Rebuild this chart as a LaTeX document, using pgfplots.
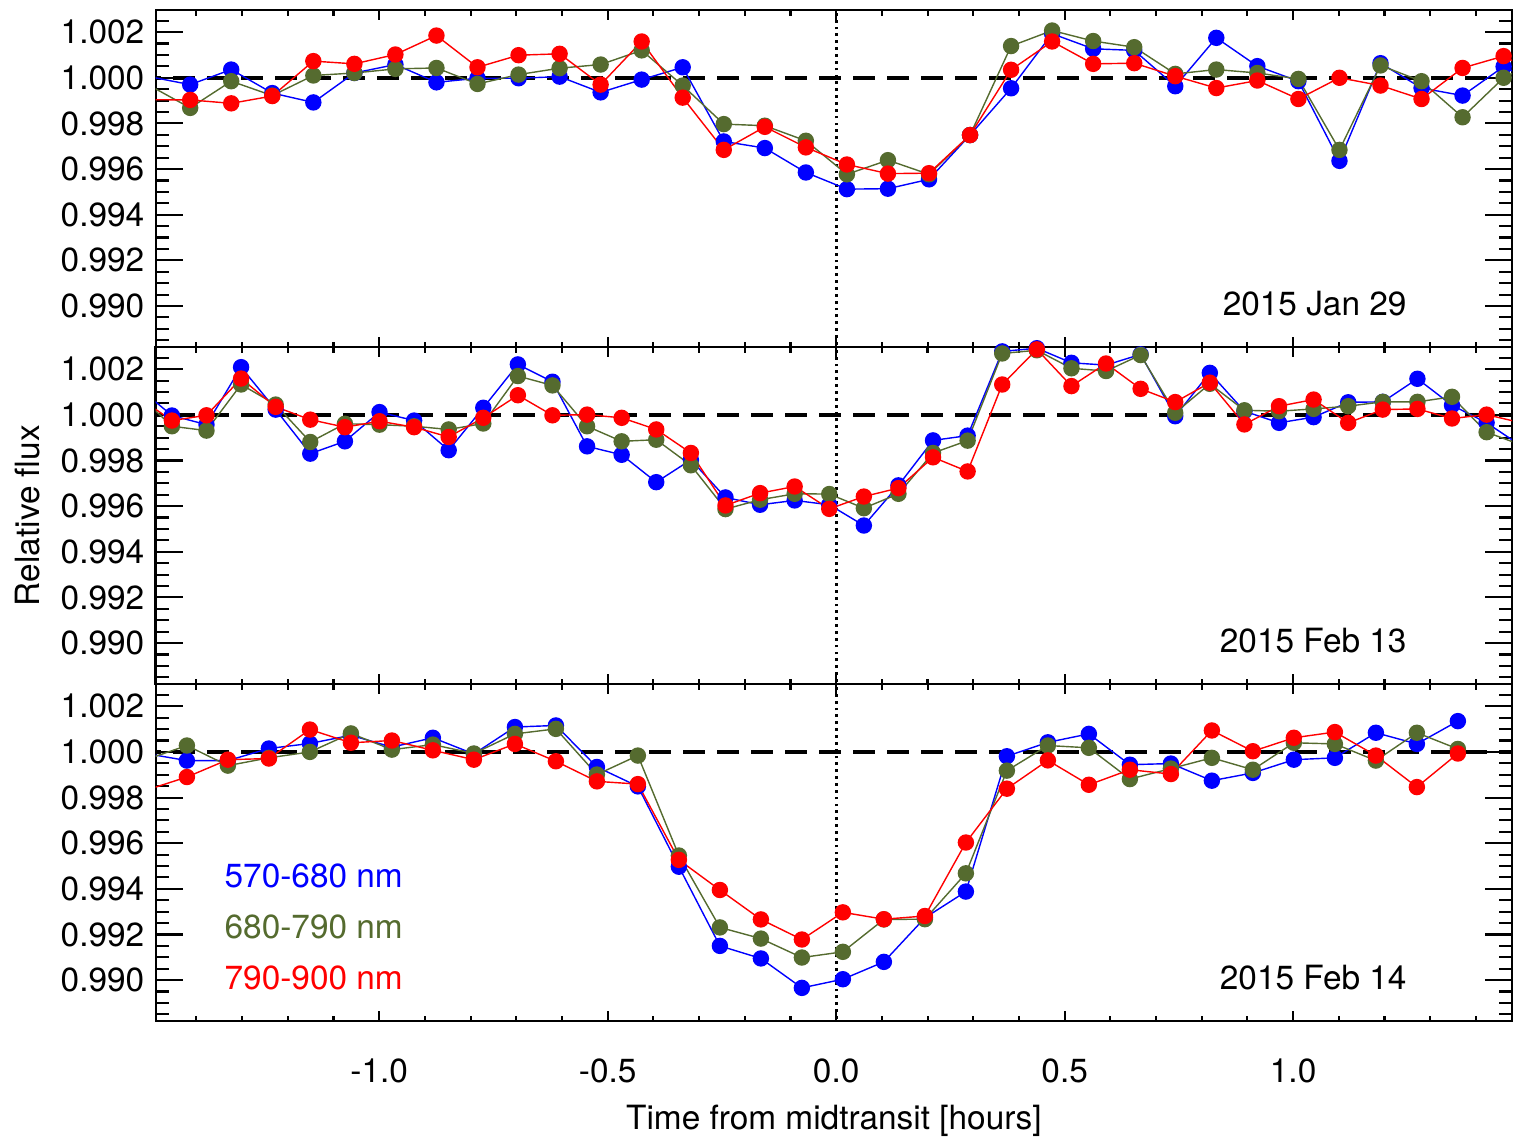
\documentclass[border=0pt]{standalone}
\usepackage{fontspec}
\setmainfont{TeX Gyre Heros}
\usepackage{pgfplots}
\usepackage{pgfplotstable}
\pgfplotsset{compat=1.18}

\definecolor{bandB}{RGB}{0,0,255}
\definecolor{bandG}{RGB}{85,107,47}
\definecolor{bandR}{RGB}{255,0,0}
\newcommand{\ff}{\fontsize{19pt}{22pt}\selectfont}

% time [h], 570-680, 680-790, 790-900 nm
\pgfplotstableread{
t b g r
-1.5034 1.00005 0.99967 0.99904
-1.4136 0.99970 0.99868 0.99903
-1.3238 1.00036 0.99985 0.99888
-1.2340 0.99933 0.99922 0.99920
-1.1441 0.99892 1.00010 1.00073
-1.0543 1.00021 1.00021 1.00061
-0.9645 1.00058 1.00039 1.00102
-0.8747 0.99980 1.00043 1.00185
-0.7849 0.99998 0.99973 1.00046
-0.6950 0.99998 1.00014 1.00099
-0.6052 1.00005 1.00042 1.00105
-0.5154 0.99936 1.00058 0.99970
-0.4256 0.99992 1.00120 1.00159
-0.3358 1.00046 0.99966 0.99913
-0.2459 0.99721 0.99797 0.99684
-0.1561 0.99692 0.99790 0.99785
-0.0663 0.99585 0.99724 0.99695
0.0235 0.99512 0.99577 0.99620
0.1133 0.99514 0.99639 0.99580
0.2032 0.99555 0.99577 0.99582
0.2930 0.99749 0.99749 0.99749
0.3828 0.99954 1.00139 1.00035
0.4726 1.00193 1.00207 1.00159
0.5624 1.00127 1.00161 1.00061
0.6523 1.00120 1.00134 1.00064
0.7421 0.99963 1.00017 1.00007
0.8319 1.00175 1.00036 0.99955
0.9217 1.00051 1.00021 0.99988
1.0115 0.99985 0.99995 0.99907
1.1014 0.99636 0.99684 1.00000
1.1912 1.00064 1.00054 0.99966
1.2810 0.99955 0.99985 0.99907
1.3708 0.99922 0.99827 1.00043
1.4606 1.00049 1.00000 1.00095
1.5505 0.99960 1.00090 1.00000
}\janA

\pgfplotstableread{
t b g r
-1.5293 1.00124 1.00094 1.00080
-1.4536 0.99997 0.99950 0.99975
-1.3779 0.99957 0.99931 0.99998
-1.3022 1.00209 1.00133 1.00159
-1.2265 1.00023 1.00045 1.00035
-1.1508 0.99830 0.99881 0.99979
-1.0750 0.99884 0.99961 0.99946
-0.9993 1.00012 0.99957 0.99972
-0.9236 0.99975 0.99950 0.99946
-0.8479 0.99845 0.99936 0.99903
-0.7722 1.00031 0.99962 0.99987
-0.6965 1.00221 1.00170 1.00086
-0.6208 1.00145 1.00129 0.99998
-0.5451 0.99862 0.99950 1.00001
-0.4694 0.99825 0.99884 0.99987
-0.3937 0.99705 0.99891 0.99936
-0.3179 0.99803 0.99779 0.99833
-0.2422 0.99638 0.99587 0.99603
-0.1665 0.99606 0.99628 0.99657
-0.0908 0.99625 0.99654 0.99686
-0.0151 0.99606 0.99653 0.99588
0.0606 0.99515 0.99591 0.99642
0.1363 0.99691 0.99654 0.99679
0.2120 0.99888 0.99833 0.99814
0.2877 0.99909 0.99887 0.99752
0.3634 1.00278 1.00269 1.00133
0.4392 1.00292 1.00283 1.00287
0.5149 1.00228 1.00204 1.00126
0.5906 1.00218 1.00192 1.00225
0.6663 1.00265 1.00262 1.00114
0.7420 0.99994 1.00009 1.00056
0.8177 1.00184 1.00136 1.00141
0.8934 1.00016 1.00020 0.99958
0.9691 0.99965 1.00016 1.00038
1.0448 0.99990 1.00026 1.00067
1.1205 1.00055 1.00038 0.99965
1.1962 1.00057 1.00057 1.00023
1.2720 1.00158 1.00057 1.00026
1.3477 1.00042 1.00079 0.99984
1.4234 0.99965 0.99924 1.00001
1.4991 0.99864 0.99868 0.99965
}\febA

\pgfplotstableread{
t b g r
-1.5105 0.99993 0.99966 0.99832
-1.4208 0.99962 1.00028 0.99890
-1.3311 0.99962 0.99940 0.99966
-1.2414 1.00015 0.99974 0.99971
-1.1516 1.00037 1.00000 1.00098
-1.0619 1.00073 1.00081 1.00040
-0.9722 1.00021 1.00010 1.00050
-0.8825 1.00062 1.00032 1.00007
-0.7928 0.99991 0.99993 0.99966
-0.7030 1.00109 1.00079 1.00035
-0.6133 1.00116 1.00101 0.99959
-0.5236 0.99934 0.99901 0.99871
-0.4339 0.99849 0.99984 0.99859
-0.3442 0.99497 0.99546 0.99527
-0.2544 0.99150 0.99231 0.99395
-0.1647 0.99095 0.99182 0.99266
-0.0750 0.98966 0.99099 0.99178
0.0147 0.99004 0.99124 0.99297
0.1044 0.99080 0.99266 0.99267
0.1942 0.99273 0.99267 0.99281
0.2839 0.99388 0.99468 0.99603
0.3736 0.99981 0.99918 0.99839
0.4633 1.00042 1.00028 0.99963
0.5530 1.00079 1.00018 0.99856
0.6428 0.99944 0.99881 0.99922
0.7325 0.99949 0.99927 0.99903
0.8222 0.99874 0.99974 1.00094
0.9119 0.99908 0.99922 1.00003
1.0016 0.99966 1.00040 1.00062
1.0914 0.99974 1.00035 1.00087
1.1811 1.00084 0.99962 0.99984
1.2708 1.00035 1.00084 0.99846
1.3605 1.00135 1.00013 0.99993
}\febB

\pgfplotsset{
  panel/.style={
    scale only axis, width=271.2mm, height=67.4mm,
    xmin=-1.489, xmax=1.479, ymin=0.9882, ymax=1.00297,
    xtick={-1,-0.5,0,0.5,1},
    minor xtick={-1.4,-1.3,-1.2,-1.1,-0.9,-0.8,-0.7,-0.6,-0.4,-0.3,-0.2,-0.1,
                 0.1,0.2,0.3,0.4,0.6,0.7,0.8,0.9,1.1,1.2,1.3,1.4},
    ytick={0.990,0.992,0.994,0.996,0.998,1.000,1.002},
    yticklabels={0.990,0.992,0.994,0.996,0.998,1.000,1.002},
    minor ytick={0.9885,0.9890,0.9895,0.9905,0.9910,0.9915,0.9925,0.9930,0.9935,
                 0.9945,0.9950,0.9955,0.9965,0.9970,0.9975,0.9985,0.9990,0.9995,
                 1.0005,1.0010,1.0015,1.0025},
    major tick length=5.4mm, minor tick length=2.7mm,
    xtick style={/pgfplots/major tick length=2mm, /pgfplots/minor tick length=1.1mm},
    every tick/.style={black, line width=1.2pt},
    axis line style={line width=1.4pt},
    tick align=inside,
    tick label style={font=\ff},
    label style={font=\ff},
  },
  band/.style={line width=0.8pt, mark=*, mark size=1.5mm, mark options={solid}},
  zeroline/.style={black, line width=2pt, dash pattern=on 4.4mm off 2.4mm},
  midline/.style={black, line width=1.8pt, dash pattern=on 1.6pt off 2.3pt},
}

\begin{document}
\ff
\begin{tikzpicture}
\begin{axis}[panel, name=p1, xticklabels={}]
  \addplot[zeroline] coordinates {(-1.6,1) (1.6,1)};
  \addplot[midline] coordinates {(0,0.985) (0,1.006)};
  \addplot[band, color=bandB] table[x=t, y=b] {\janA};
  \addplot[band, color=bandG] table[x=t, y=g] {\janA};
  \addplot[band, color=bandR] table[x=t, y=r] {\janA};
  \node[anchor=east, inner sep=0pt, font=\ff] at (axis cs:1.249,0.99012) {2015 Jan 29};
\end{axis}
\begin{axis}[panel, name=p2, at={(p1.south west)}, anchor=north west, xticklabels={},
  ylabel={Relative flux},
  ylabel style={at={(axis description cs:-0.0942,0.5)}, anchor=center}]
  \addplot[zeroline] coordinates {(-1.6,1) (1.6,1)};
  \addplot[midline] coordinates {(0,0.985) (0,1.006)};
  \addplot[band, color=bandB] table[x=t, y=b] {\febA};
  \addplot[band, color=bandG] table[x=t, y=g] {\febA};
  \addplot[band, color=bandR] table[x=t, y=r] {\febA};
  \node[anchor=east, inner sep=0pt, font=\ff] at (axis cs:1.249,0.99012) {2015 Feb 13};
\end{axis}
\begin{axis}[panel, name=p3, at={(p2.south west)}, anchor=north west,
  xticklabels={-1.0,-0.5,0.0,0.5,1.0},
  xticklabel style={yshift=-5.3mm},
  xlabel={Time from midtransit [hours]},
  xlabel style={at={(axis description cs:0.5,-0.322)}, anchor=base}]
  \addplot[zeroline] coordinates {(-1.6,1) (1.6,1)};
  \addplot[midline] coordinates {(0,0.985) (0,1.006)};
  \addplot[band, color=bandB] table[x=t, y=b] {\febB};
  \addplot[band, color=bandG] table[x=t, y=g] {\febB};
  \addplot[band, color=bandR] table[x=t, y=r] {\febB};
  \node[anchor=east, inner sep=0pt, font=\ff] at (axis cs:1.249,0.99012) {2015 Feb 14};
  \node[anchor=west, inner sep=0pt, font=\ff, text=bandB] at (axis cs:-1.339,0.99456) {570-680 nm};
  \node[anchor=west, inner sep=0pt, font=\ff, text=bandG] at (axis cs:-1.339,0.99232) {680-790 nm};
  \node[anchor=west, inner sep=0pt, font=\ff, text=bandR] at (axis cs:-1.339,0.99008) {790-900 nm};
\end{axis}
\pgfresetboundingbox
\path[use as bounding box] ([xshift=-31.14mm,yshift=2mm]p1.north west)
  rectangle ([xshift=0.2mm,yshift=-23.4mm]p3.south east);
\end{tikzpicture}
\end{document}
